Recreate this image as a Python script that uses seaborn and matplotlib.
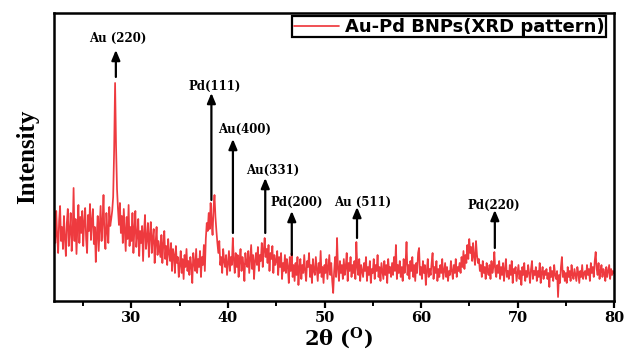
import numpy as np
import pandas as pd
import matplotlib
matplotlib.use("Agg")
import matplotlib.pyplot as plt
import seaborn as sns
from matplotlib.ticker import MultipleLocator

# ---- data (2theta from 22 to 80 in 0.1 deg steps) ----
two_theta_start = 22.0
two_theta_end = 80.0
intensity = [
    72, 58, 90, 65, 48, 80, 95, 60, 74, 52,    # 22
    85, 63, 45, 78, 92, 55, 70, 88, 50, 66,    # 23
    113, 60, 82, 47, 75, 96, 58, 84, 68, 90,   # 24
    55, 79, 93, 62, 48, 86, 70, 97, 61, 80,    # 25
    92, 57, 74, 39, 66, 85, 50, 72, 95, 60,    # 26
    78, 106, 64, 52, 88, 70, 58, 94, 75, 82,   # 27
    90, 104, 150, 218, 155, 112, 92, 76, 98, 68,  # 28
    85, 58, 92, 70, 50, 84, 62, 96, 55, 74,    # 29
    60, 88, 48, 72, 90, 54, 66, 82, 45, 70,    # 30
    58, 75, 40, 68, 86, 52, 62, 78, 44, 66,    # 31
    79, 48, 63, 72, 38, 58, 74, 46, 60, 52,    # 32
    44, 66, 38, 57, 70, 42, 55, 36, 62, 48,    # 33
    40, 58, 30, 52, 46, 28, 55, 38, 44, 24,    # 34
    36, 50, 28, 42, 22, 46, 34, 52, 30, 40,    # 35
    26, 44, 35, 18, 48, 38, 30, 52, 28, 42,    # 36
    34, 50, 24, 44, 36, 56, 30, 62, 78, 70,    # 37
    88, 72, 98, 80, 66, 92, 106, 84, 70, 58,   # 38
    48, 60, 36, 44, 28, 52, 40, 34, 46, 26,    # 39
    38, 50, 30, 44, 36, 63, 42, 28, 48, 34,    # 40
    46, 24, 40, 52, 30, 44, 36, 20, 48, 38,    # 41
    34, 50, 28, 42, 56, 32, 46, 22, 40, 48,    # 42
    36, 54, 30, 46, 40, 58, 34, 50, 63, 44,    # 43
    52, 38, 56, 30, 48, 42, 55, 28, 46, 36,    # 44
    40, 50, 26, 44, 34, 48, 22, 38, 30, 46,    # 45
    28, 42, 34, 18, 44, 30, 48, 24, 36, 20,    # 46
    38, 26, 44, 16, 34, 42, 22, 36, 28, 46,    # 47
    30, 20, 40, 34, 48, 24, 36, 18, 42, 30,    # 48
    26, 44, 32, 20, 38, 28, 50, 24, 34, 18,    # 49
    36, 28, 42, 22, 34, 46, 26, 38, 20, 8,     # 50
    30, 44, 24, 63, 32, 20, 40, 28, 36, 22,    # 51
    42, 26, 34, 48, 20, 38, 30, 44, 24, 36,    # 52
    28, 40, 22, 59, 34, 26, 42, 20, 36, 30,    # 53
    24, 38, 30, 44, 20, 34, 26, 40, 18, 32,    # 54
    28, 42, 22, 36, 30, 46, 24, 34, 20, 38,    # 55
    30, 22, 40, 26, 36, 18, 42, 28, 34, 24,    # 56
    38, 26, 44, 30, 56, 22, 36, 28, 40, 24,    # 57
    34, 20, 42, 28, 38, 59, 26, 36, 22, 40,    # 58
    30, 44, 24, 36, 20, 38, 28, 48, 53, 26,    # 59
    34, 22, 40, 28, 36, 16, 30, 42, 24, 32,    # 60
    26, 38, 48, 22, 34, 28, 40, 20, 32, 24,    # 61
    36, 28, 42, 22, 30, 38, 24, 34, 20, 30,    # 62
    26, 40, 30, 22, 36, 28, 42, 24, 34, 30,    # 63
    38, 28, 44, 34, 50, 32, 46, 38, 56, 42,    # 64
    62, 48, 54, 40, 58, 44, 36, 60, 46, 38,    # 65
    42, 30, 36, 24, 40, 28, 34, 22, 38, 30,    # 66
    26, 36, 22, 40, 28, 34, 49, 30, 24, 36,    # 67
    28, 40, 22, 34, 26, 38, 20, 32, 42, 24,    # 68
    30, 22, 36, 26, 40, 18, 32, 28, 34, 20,    # 69
    28, 36, 22, 30, 16, 34, 26, 38, 20, 30,    # 70
    24, 36, 28, 18, 32, 40, 22, 30, 26, 34,    # 71
    20, 30, 24, 38, 18, 28, 34, 22, 30, 26,    # 72
    32, 22, 28, 14, 34, 24, 30, 20, 36, 26,    # 73
    22, 30, 4, 26, 18, 34, 44, 24, 30, 20,     # 74
    28, 18, 34, 24, 30, 20, 36, 26, 22, 32,    # 75
    26, 20, 34, 28, 18, 30, 24, 36, 22, 28,    # 76
    30, 22, 36, 26, 32, 20, 38, 28, 34, 24,    # 77
    40, 49, 32, 26, 38, 22, 30, 36, 24, 32,    # 78
    28, 20, 34, 24, 30, 36, 22, 32, 26, 30,    # 79
    28,                                        # 80
]
two_theta = np.linspace(two_theta_start, two_theta_end, len(intensity))

# peak annotations: label, arrow 2theta, arrow base, arrow tip, label x, label y
peak_labels = ["Au (220)", "Pd(111)", "Au(400)", "Au(331)", "Pd(200)", "Au (511)", "Pd(220)"]
peak_pos = [28.38, 38.28, 40.51, 43.86, 46.61, 53.37, 67.65]
arrow_base = [224, 101, 68, 68, 46, 63, 53]
arrow_tip = [251, 208, 162, 123, 90, 94, 91]
label_x = [28.6, 38.62, 41.75, 44.62, 47.1, 54.0, 67.58]
label_y = [263, 215, 172, 131, 99, 99, 96]

legend_label = "Au-Pd BNPs(XRD pattern)"

df = pd.DataFrame({"two_theta": two_theta, "intensity": intensity})

# ---- style ----
sns.set_style("ticks")
plt.rcParams["font.family"] = ["Liberation Serif", "DejaVu Serif"]
plt.rcParams["text.color"] = "black"
plt.rcParams["axes.labelcolor"] = "black"
plt.rcParams["xtick.color"] = "black"
plt.rcParams["ytick.color"] = "black"
plt.rcParams["mathtext.fontset"] = "custom"
plt.rcParams["mathtext.rm"] = "DejaVu Serif:bold"
plt.rcParams["mathtext.it"] = "DejaVu Serif:bold"
plt.rcParams["mathtext.bf"] = "DejaVu Serif:bold"

fig = plt.figure(figsize=(6.24, 3.50), dpi=100)
ax = fig.add_axes([0.087, 0.14, 0.897, 0.823])

sns.lineplot(data=df, x="two_theta", y="intensity", color="#EE3A3F",
             linewidth=1.25, ax=ax, label=legend_label, estimator=None, sort=False)

ax.set_xlim(two_theta_start, two_theta_end)
ax.set_ylim(0, 288)
ax.set_yticks([])
ax.xaxis.set_major_locator(MultipleLocator(10))
ax.xaxis.set_minor_locator(MultipleLocator(5))
ax.tick_params(axis="x", which="major", direction="out", length=5, width=1.6,
               labelsize=10.5, pad=2, colors="black")
ax.tick_params(axis="x", which="minor", direction="out", length=3.5, width=1.4)
for lbl in ax.get_xticklabels():
    lbl.set_fontweight("bold")
    lbl.set_fontfamily("DejaVu Serif")
for s in ax.spines.values():
    s.set_visible(True)
    s.set_linewidth(1.8)
    s.set_color("black")

ax.set_xlabel("2θ ($^{\\mathrm{O}}$)", fontsize=15, fontweight="bold",
              fontfamily="DejaVu Serif")
ax.xaxis.set_label_coords(0.507, -0.086)
ax.set_ylabel("Intensity", fontsize=18, fontweight="bold", labelpad=11)

for lab, px, b, t, lx, ly in zip(peak_labels, peak_pos, arrow_base, arrow_tip, label_x, label_y):
    ax.annotate("", xy=(px, t), xytext=(px, b),
                arrowprops=dict(arrowstyle="-|>,head_length=0.6,head_width=0.25",
                                color="black", lw=1.6, shrinkA=0, shrinkB=0))
    ax.text(lx, ly, lab, ha="center", va="center", fontsize=8.5, fontweight="bold",
            fontfamily="DejaVu Serif", color="black")

leg = ax.legend(loc="upper right", bbox_to_anchor=(0.986, 0.988), frameon=True,
                fancybox=False, edgecolor="black", borderpad=0.08,
                handlelength=2.5, handletextpad=0.35, borderaxespad=0,
                prop={"family": "DejaVu Sans", "weight": "bold", "size": 13})
leg.get_frame().set_linewidth(1.6)
leg.get_frame().set_alpha(1)
for t in leg.get_texts():
    t.set_color("black")

fig.savefig("out.png", dpi=100)
